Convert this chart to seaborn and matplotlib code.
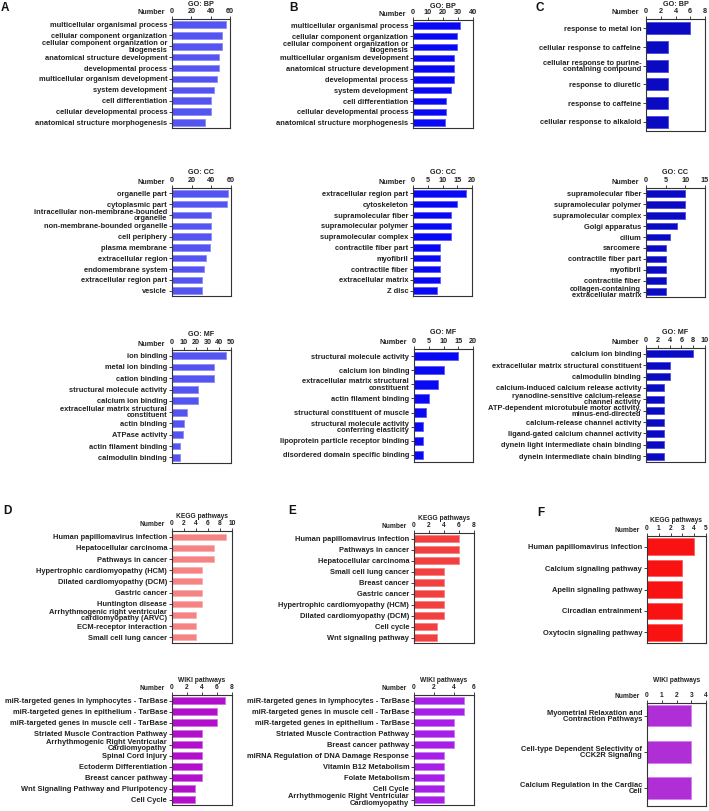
import numpy as np
import pandas as pd
import matplotlib
matplotlib.use("Agg")
import matplotlib.pyplot as plt
import seaborn as sns
from matplotlib import font_manager as fm

# ---------------- DATA ----------------
A_BP_terms = ["multicellular organismal process", "cellular component organization",
              "cellular component organization or\nbiogenesis", "anatomical structure development",
              "developmental process", "multicellular organism development", "system development",
              "cell differentiation", "cellular developmental process", "anatomical structure morphogenesis"]
A_BP_vals = [56, 52, 52, 49, 49, 47, 43, 40, 40, 34]

B_BP_terms = ["multicellular organismal process", "cellular component organization",
              "cellular component organization or\nbiogenesis", "multicellular organism development",
              "anatomical structure development", "developmental process", "system development",
              "cell differentiation", "cellular developmental process", "anatomical structure morphogenesis"]
B_BP_vals = [31, 29, 29, 27, 27, 27, 25, 22, 22, 21]

C_BP_terms = ["response to metal ion", "cellular response to caffeine",
              "cellular response to purine-\ncontaining compound", "response to diuretic",
              "response to caffeine", "cellular response to alkaloid"]
C_BP_vals = [6, 3, 3, 3, 3, 3]

A_CC_terms = ["organelle part", "cytoplasmic part", "intracellular non-membrane-bounded\norganelle",
              "non-membrane-bounded organelle", "cell periphery", "plasma membrane",
              "extracellular region", "endomembrane system", "extracellular region part", "vesicle"]
A_CC_vals = [57, 56, 40, 40, 40, 39, 35, 33, 31, 31]

B_CC_terms = ["extracellular region part", "cytoskeleton", "supramolecular fiber",
              "supramolecular polymer", "supramolecular complex", "contractile fiber part",
              "myofibril", "contractile fiber", "extracellular matrix", "Z disc"]
B_CC_vals = [18, 15, 13, 13, 13, 9, 9, 9, 9, 8]

C_CC_terms = ["supramolecular fiber", "supramolecular polymer", "supramolecular complex",
              "Golgi apparatus", "cilium", "sarcomere", "contractile fiber part", "myofibril",
              "contractile fiber", "collagen-containing\nextracellular matrix"]
C_CC_vals = [10, 10, 10, 8, 6, 5, 5, 5, 5, 5]

A_MF_terms = ["ion binding", "metal ion binding", "cation binding", "structural molecule activity",
              "calcium ion binding", "extracellular matrix structural\nconstituent", "actin binding",
              "ATPase activity", "actin filament binding", "calmodulin binding"]
A_MF_vals = [46, 36, 36, 22, 22, 13, 10, 9, 7, 7]

B_MF_terms = ["structural molecule activity", "calcium ion binding",
              "extracellular matrix structural\nconstituent", "actin filament binding",
              "structural constituent of muscle", "structural molecule activity\nconferring elasticity",
              "lipoprotein particle receptor binding", "disordered domain specific binding"]
B_MF_vals = [15, 10, 8, 5, 4, 3, 3, 3]

C_MF_terms = ["calcium ion binding", "extracellular matrix structural constituent", "calmodulin binding",
              "calcium-induced calcium release activity",
              "ryanodine-sensitive calcium-release\nchannel activity",
              "ATP-dependent microtubule motor activity,\nminus-end-directed",
              "calcium-release channel activity", "ligand-gated calcium channel activity",
              "dynein light intermediate chain binding", "dynein intermediate chain binding"]
C_MF_vals = [8, 4, 4, 3, 3, 3, 3, 3, 3, 3]

D_KEGG_terms = ["Human papillomavirus infection", "Hepatocellular carcinoma", "Pathways in cancer",
                "Hypertrophic cardiomyopathy (HCM)", "Dilated cardiomyopathy (DCM)", "Gastric cancer",
                "Huntington disease", "Arrhythmogenic right ventricular\ncardiomyopathy (ARVC)",
                "ECM-receptor interaction", "Small cell lung cancer"]
D_KEGG_vals = [9, 7, 7, 5, 5, 5, 5, 4, 4, 4]

E_KEGG_terms = ["Human papillomavirus infection", "Pathways in cancer", "Hepatocellular carcinoma",
                "Small cell lung cancer", "Breast cancer", "Gastric cancer",
                "Hypertrophic cardiomyopathy (HCM)", "Dilated cardiomyopathy (DCM)", "Cell cycle",
                "Wnt signaling pathway"]
E_KEGG_vals = [6, 6, 6, 4, 4, 4, 4, 4, 3, 3]

F_KEGG_terms = ["Human papillomavirus infection", "Calcium signaling pathway", "Apelin signaling pathway",
                "Circadian entrainment", "Oxytocin signaling pathway"]
F_KEGG_vals = [4, 3, 3, 3, 3]

D_WIKI_terms = ["miR-targeted genes in lymphocytes - TarBase", "miR-targeted genes in epithelium - TarBase",
                "miR-targeted genes in muscle cell - TarBase", "Striated Muscle Contraction Pathway",
                "Arrhythmogenic Right Ventricular\nCardiomyopathy", "Spinal Cord Injury",
                "Ectoderm Differentiation", "Breast cancer pathway",
                "Wnt Signaling Pathway and Pluripotency", "Cell Cycle"]
D_WIKI_vals = [7, 6, 6, 4, 4, 4, 4, 4, 3, 3]

E_WIKI_terms = ["miR-targeted genes in lymphocytes - TarBase", "miR-targeted genes in muscle cell - TarBase",
                "miR-targeted genes in epithelium - TarBase", "Striated Muscle Contraction Pathway",
                "Breast cancer pathway", "miRNA Regulation of DNA Damage Response",
                "Vitamin B12 Metabolism", "Folate Metabolism", "Cell Cycle",
                "Arrhythmogenic Right Ventricular\nCardiomyopathy"]
E_WIKI_vals = [5, 5, 4, 4, 4, 3, 3, 3, 3, 3]

F_WIKI_terms = ["Myometrial Relaxation and\nContraction Pathways",
                "Cell-type Dependent Selectivity of\nCCK2R Signaling",
                "Calcium Regulation in the Cardiac\nCell"]
F_WIKI_vals = [3, 3, 3]

# ---------------- STYLE ----------------
sns.set_theme(style="white")
plt.rcParams['font.family'] = ['Liberation Sans', 'DejaVu Sans']

names = {f.name for f in fm.fontManager.ttflist}
NARROW = 'Liberation Sans Narrow' if 'Liberation Sans Narrow' in names else 'Liberation Sans'
NARROW_FS = 6.4 if NARROW == 'Liberation Sans Narrow' else 5.4

W, H = 709, 811
fig = plt.figure(figsize=(W / 100, H / 100), dpi=100)


def rect(x0, y0, x1, y1):
    return [x0 / W, 1 - y1 / H, (x1 - x0) / W, (y1 - y0) / H]


def panel(box, terms, vals, ticks, title, color, edge, fam='Liberation Sans', fs=5.4,
          width=0.6, ypad=(0.5, 0.5), title_off=16, tick_fs=5.2, ls=0.85):
    ax = fig.add_axes(rect(*box))
    df = pd.DataFrame({"term": terms, "n": vals})
    sns.barplot(data=df, x="n", y="term", ax=ax, color=color, orient="h", width=width,
                saturation=1, edgecolor=edge, linewidth=0.6)
    n = len(terms)
    ax.set_xlim(0, ticks[-1])
    ax.set_ylim(n - 1 + ypad[1], -ypad[0])
    ax.set_xlabel("")
    ax.set_ylabel("")
    ax.xaxis.tick_top()
    ax.set_xticks(ticks)
    ax.set_xticklabels([str(t) for t in ticks], fontsize=tick_fs, fontweight='bold',
                       family=fam)
    ax.set_yticks(range(n))
    ax.set_yticklabels(terms, fontsize=fs, fontweight='bold', family=fam, linespacing=ls)
    ax.tick_params(axis='x', which='both', top=True, bottom=False, length=2, width=0.6,
                   pad=0.8, colors='#222222')
    ax.tick_params(axis='y', which='both', left=True, length=2, width=0.6, pad=1.5,
                   colors='#222222')
    for s in ax.spines.values():
        s.set_visible(True)
        s.set_color('#333333')
        s.set_linewidth(0.8)
    ax.annotate("Number", xy=(0, 1), xycoords='axes fraction', xytext=(-7, 6),
                textcoords='offset pixels', ha='right', va='center', fontsize=tick_fs,
                fontweight='bold', family=fam, color='#222222')
    ax.annotate(title, xy=(0.5, 1), xycoords='axes fraction', xytext=(0, title_off),
                textcoords='offset pixels', ha='center', va='center', fontsize=tick_fs,
                fontweight='bold', family=fam, color='#222222')
    ax.grid(False)
    return ax


cA, eA = '#5454F0', '#8C8CF8'
cB, eB = '#0808F5', '#5A5AFA'
cC, eC = '#0A0AC2', '#4A4AE0'
cDK, eDK = '#F58383', '#FAB0B0'
cEK, eEK = '#F23F3F', '#F88080'
cFK, eFK = '#F81212', '#FA6060'
cDW, eDW = '#B20FCC', '#D070E0'
cEW, eEW = '#A61EE8', '#C878F2'
cFW, eFW = '#B02ED6', '#D080EA'

# GO BP
panel((172, 19, 230, 128), A_BP_terms, A_BP_vals, [0, 20, 40, 60], "GO: BP", cA, eA, title_off=14)
panel((413, 20, 473, 128), B_BP_terms, B_BP_vals, [0, 10, 20, 30, 40], "GO: BP", cB, eB, title_off=14)
panel((646, 19, 705, 131), C_BP_terms, C_BP_vals, [0, 2, 4, 6, 8], "GO: BP", cC, eC, width=0.65,
      title_off=14)
# GO CC
panel((172, 188, 231, 296), A_CC_terms, A_CC_vals, [0, 20, 40, 60], "GO: CC", cA, eA)
panel((413, 188, 472, 296), B_CC_terms, B_CC_vals, [0, 5, 10, 15, 20], "GO: CC", cB, eB)
panel((646, 188, 705, 297), C_CC_terms, C_CC_vals, [0, 5, 10, 15], "GO: CC", cC, eC)
# GO MF
panel((172, 350, 231, 463), A_MF_terms, A_MF_vals, [0, 10, 20, 30, 40, 50], "GO: MF", cA, eA)
panel((414, 349, 473, 462), B_MF_terms, B_MF_vals, [0, 5, 10, 15, 20], "GO: MF", cB, eB)
panel((646, 348, 705, 462), C_MF_terms, C_MF_vals, [0, 2, 4, 6, 8, 10], "GO: MF", cC, eC,
      ls=0.8)

# KEGG
kw = dict(fam=NARROW, fs=NARROW_FS, tick_fs=NARROW_FS - 0.6, title_off=15)
panel((172, 531, 232, 643), D_KEGG_terms, D_KEGG_vals, [0, 2, 4, 6, 8, 10], "KEGG pathways",
      cDK, eDK, width=0.55, **kw)
panel((414, 533, 474, 643), E_KEGG_terms, E_KEGG_vals, [0, 2, 4, 6, 8], "KEGG pathways",
      cEK, eEK, width=0.6, **kw)
panel((647, 536, 706, 643), F_KEGG_terms, F_KEGG_vals, [0, 1, 2, 3, 4, 5], "KEGG pathways",
      cFK, eFK, width=0.78, **kw)
# WIKI
panel((172, 695, 232, 805), D_WIKI_terms, D_WIKI_vals, [0, 2, 4, 6, 8], "WIKI pathways",
      cDW, eDW, width=0.6, **kw)
panel((414, 695, 474, 805), E_WIKI_terms, E_WIKI_vals, [0, 2, 4, 6], "WIKI pathways",
      cEW, eEW, width=0.6, **kw)
panel((647, 703, 706, 806), F_WIKI_terms, F_WIKI_vals, [0, 1, 2, 3, 4], "WIKI pathways",
      cFW, eFW, width=0.6, ypad=(0.35, 0.5), title_off=23, fam=NARROW, fs=NARROW_FS,
      tick_fs=NARROW_FS - 0.6)

# panel letters
for letter, x, y in [("A", 5, 8), ("B", 293, 8), ("C", 540, 8),
                     ("D", 7, 511), ("E", 292, 511), ("F", 541, 513)]:
    fig.text(x / W, 1 - y / H, letter, fontsize=8.5, fontweight='bold', ha='center',
             va='center', color='#111111')

fig.savefig("out.png", dpi=100)
